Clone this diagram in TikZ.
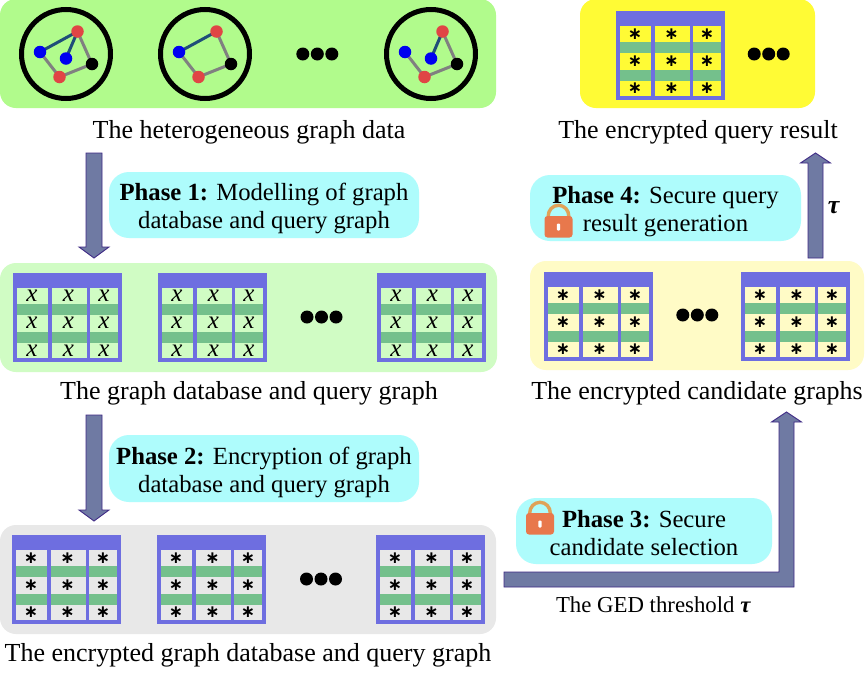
\documentclass[tikz,border=0pt]{standalone}
\usepackage{fontspec}
\setmainfont{Liberation Serif}
\newfontfamily\astfont{DejaVu Sans}
\usetikzlibrary{calc}
\definecolor{cTop}{HTML}{B1FB8C}
\definecolor{cDb}{HTML}{D0FCC4}
\definecolor{cGrey}{HTML}{E8E8E8}
\definecolor{cPale}{HTML}{FFFBC6}
\definecolor{cYel}{HTML}{FFFB35}
\definecolor{cPill}{HTML}{AEFCFC}
\definecolor{cTbl}{HTML}{6E6EE0}
\definecolor{cBand}{HTML}{74C08C}
\definecolor{cArrow}{HTML}{6F7AA3}
\definecolor{cArrowLine}{HTML}{3F2A85}
\definecolor{cNavy}{HTML}{1F4E79}
\definecolor{cGr}{HTML}{808080}
\definecolor{cRed}{HTML}{E04545}
\definecolor{cBlue}{HTML}{0000F0}
\definecolor{cLock}{HTML}{E8784C}
\definecolor{cShackle}{HTML}{E0A258}
\tikzset{
  panelbox/.style={rounded corners=16pt,inner sep=0pt,outer sep=0pt,draw=none},
  pillbox/.style={panelbox,rounded corners=20pt,fill=cPill,align=center,
    font=\fontsize{24.7}{28}\selectfont},
  captext/.style={anchor=base,inner sep=0pt,font=\fontsize{26}{28}\selectfont},
  gedtext/.style={anchor=base,inner sep=0pt,font=\fontsize{22.8}{24}\selectfont},
  blockarrow/.style={draw=cArrowLine,fill=cArrow,line width=0.9pt,line join=miter},
  navyedge/.style={draw=cNavy,line width=3pt},
  greyedge/.style={draw=cGr,line width=3pt},
  gnode/.style={circle,inner sep=0pt,minimum size=12.5pt},
  dotmark/.style={circle,fill=black,inner sep=0pt,minimum size=13pt},
  cellmark/.style={inner sep=0pt},
}
\newcommand\boxat[6]{\node[#6,minimum width={(#4-#2)*1pt},minimum height={(#5-#3)*1pt}] (#1) at ({(#2+#4)/2},{(#3+#5)/2})}
\newcommand\topst{\rule{0pt}{25pt}}
\newcommand\botst{\rule[-5pt]{0pt}{5pt}}
% name, x, y, cell colour, mark
\newcommand\tbl[5]{%
  \begin{scope}[shift={(#2,#3)}]
    \fill[cTbl] (0,0) rectangle (109,89);
    \foreach \cl/\cr/\cc/\ci in {4/35/19/1,39/74/55.5/2,77/105/91/3}{
      \fill[#4] (\cl,15) rectangle (\cr,85);
      \fill[cBand] (\cl,31) rectangle (\cr,42);
      \fill[cBand] (\cl,58.5) rectangle (\cr,69.5);
      \foreach \ry/\ri in {23/1,50.2/2,77.4/3}{
        \node[cellmark] (#1-\ci-\ri) at (\cc,\ry) {#5};
      }
    }
  \end{scope}}
\newcommand\xmk{\fontsize{25}{25}\selectfont\textit{x}}
\newcommand\smk{\astfont\bfseries\fontsize{17}{17}\selectfont ∗}
% name, x, y
\newcommand\threedots[3]{%
  \node[dotmark] (#1a) at (#2-14.5,#3) {};
  \node[dotmark] (#1b) at (#2,#3) {};
  \node[dotmark] (#1c) at (#2+14.5,#3) {};}
% x = body centre, y = body top
\newcommand\padlock[2]{%
  \begin{scope}[shift={(#1,#2)}]
    \draw[cShackle,line width=3.4pt] (-10.3,2) -- (-10.3,0) arc[start angle=180,end angle=0,x radius=10.3pt,y radius=10.7pt] -- (10.3,2);
    \fill[cLock,rounded corners=3pt] (-14,0) rectangle (14,21.5);
    \fill[white,rounded corners=1pt] (-1.7,7.5) rectangle (1.7,14.5);
  \end{scope}}
\begin{document}
\begin{tikzpicture}[x=1pt,y=-1pt]
\useasboundingbox (0,0) rectangle (865,675);
\fill[white] (0,0) rectangle (865,675);
% panels
\boxat{pnlA}{0}{-1}{496}{108}{panelbox,fill=cTop} {};
\boxat{pnlB}{0}{263}{497}{372}{panelbox,fill=cDb} {};
\boxat{pnlC}{0}{525}{496}{634}{panelbox,fill=cGrey} {};
\boxat{pnlD}{530}{261}{864}{370}{panelbox,fill=cPale} {};
\boxat{pnlE}{580}{-1}{815}{108}{panelbox,fill=cYel} {};
% graph glyphs
\foreach \gid/\gx/\gy/\hasa/\hasb in {g1/66/54/1/1,g2/205/54/1/0,g3/431/54/0/1}{
  \begin{scope}[shift={(\gx,\gy)}]
    \node[circle,draw=black,line width=5pt,inner sep=0pt,minimum size=89pt] (\gid ring) at (0,0) {};
    \coordinate (\gid pb1) at (-26,-2);
    \coordinate (\gid pr1) at (11.5,-22.5);
    \coordinate (\gid pk) at (26,10);
    \coordinate (\gid pr2) at (-6.5,23);
    \coordinate (\gid pb2) at (0,4.5);
    \ifnum\hasa=1 \draw[navyedge] (\gid pb1) -- (\gid pr1); \fi
    \ifnum\hasb=1 \draw[navyedge] (\gid pb2) -- (\gid pr1); \fi
    \draw[greyedge] (\gid pr1) -- (\gid pk);
    \draw[greyedge] (\gid pk) -- (\gid pr2);
    \draw[greyedge] (\gid pr2) -- (\gid pb1);
    \node[gnode,fill=cBlue] (\gid b1) at (\gid pb1) {};
    \node[gnode,fill=cRed]  (\gid r1) at (\gid pr1) {};
    \node[gnode,fill=black] (\gid k) at (\gid pk) {};
    \node[gnode,fill=cRed]  (\gid r2) at (\gid pr2) {};
    \ifnum\hasb=1 \node[gnode,fill=cBlue] (\gid b2) at (\gid pb2) {}; \fi
  \end{scope}
}
\threedots{dA}{317.3}{54}
% tables
\tbl{tB1}{13}{273}{cDb}{\xmk}
\tbl{tB2}{158}{273}{cDb}{\xmk}
\tbl{tB3}{377}{273}{cDb}{\xmk}
\threedots{dB}{321.5}{317}
\tbl{tC1}{12}{535}{cGrey}{\smk}
\tbl{tC2}{157}{535}{cGrey}{\smk}
\tbl{tC3}{376}{535}{cGrey}{\smk}
\threedots{dC}{321}{579}
\tbl{tD1}{544}{272}{cPale}{\smk}
\tbl{tD2}{741}{272}{cPale}{\smk}
\threedots{dD}{697.3}{315}
\tbl{tE1}{616}{11}{cYel}{\smk}
\threedots{dE}{768.7}{54}
% captions
\node[captext] (capA) at (249,138) {The heterogeneous graph data};
\node[captext] (capB) at (249,399) {The graph database and query graph};
\node[captext] (capC) at (248,661.5) {The encrypted graph database and query graph};
\node[captext] (capD) at (697,399) {The encrypted candidate graphs};
\node[captext] (capE) at (698,138) {The encrypted query result};
\node[gedtext] (capG) at (653.5,612.5) {The GED threshold \textbf{\textit{τ}}};
\node[captext] (tau) at (834,213) {\textbf{\textit{τ}}};
% pills
\boxat{pill1}{109}{172}{419}{238}{pillbox} {\topst\textbf{Phase 1:} Modelling of graph\\database and query graph\botst};
\boxat{pill2}{109}{435}{419}{502}{pillbox} {\topst\textbf{Phase 2:} Encryption of graph\\database and query graph\botst};
\boxat{pill3}{516}{498}{772}{564}{pillbox} {\topst\textbf{Phase 3:} Secure\\candidate selection\botst};
\boxat{pill4}{530}{175}{801}{241}{pillbox} {\topst\textbf{Phase 4:} Secure query\\result generation\botst};
\padlock{540}{513}
\padlock{558.5}{216}
% connectors
\coordinate (a1x) at (94,0);
\coordinate (a1s) at ([yshift=-45pt]a1x |- pnlA.south);
\coordinate (a1e) at ([yshift=5pt]a1x |- pnlB.north);
\draw[blockarrow] ($(a1s)+(-8,0)$) -- ($(a1s)+(8,0)$) -- ($(a1e)+(8,-11)$) -- ($(a1e)+(15,-11)$) -- (a1e) -- ($(a1e)+(-15,-11)$) -- ($(a1e)+(-8,-11)$) -- cycle;
\coordinate (a2s) at ([yshift=-43pt]a1x |- pnlB.south);
\coordinate (a2e) at ([yshift=4pt]a1x |- pnlC.north);
\draw[blockarrow] ($(a2s)+(-8,0)$) -- ($(a2s)+(8,0)$) -- ($(a2e)+(8,-11)$) -- ($(a2e)+(15,-11)$) -- (a2e) -- ($(a2e)+(-15,-11)$) -- ($(a2e)+(-8,-11)$) -- cycle;
\coordinate (a3s) at ([xshift=8pt]pnlC.east);
\coordinate (a3x) at (786.5,0);
\coordinate (a3e) at ([yshift=-42pt]a3x |- pnlD.south);
\coordinate (a3c) at (a3x |- a3s);
\draw[blockarrow] ($(a3s)+(0,-7.5)$) -- ($(a3c)+(-7.5,-7.5)$) -- ($(a3e)+(-7.5,10)$) -- ($(a3e)+(-15,10)$) -- (a3e) -- ($(a3e)+(15,10)$) -- ($(a3e)+(7.5,10)$) -- ($(a3c)+(7.5,7.5)$) -- ($(a3s)+(0,7.5)$) -- cycle;
\coordinate (a4x) at (815.5,0);
\coordinate (a4s) at ([yshift=3pt]a4x |- pnlD.north);
\coordinate (a4e) at ([yshift=-45pt]a4x |- pnlE.south);
\draw[blockarrow] ($(a4s)+(-7.5,0)$) -- ($(a4e)+(-7.5,10)$) -- ($(a4e)+(-15,10)$) -- (a4e) -- ($(a4e)+(15,10)$) -- ($(a4e)+(7.5,10)$) -- ($(a4s)+(7.5,0)$) -- cycle;
\end{tikzpicture}
\end{document}
